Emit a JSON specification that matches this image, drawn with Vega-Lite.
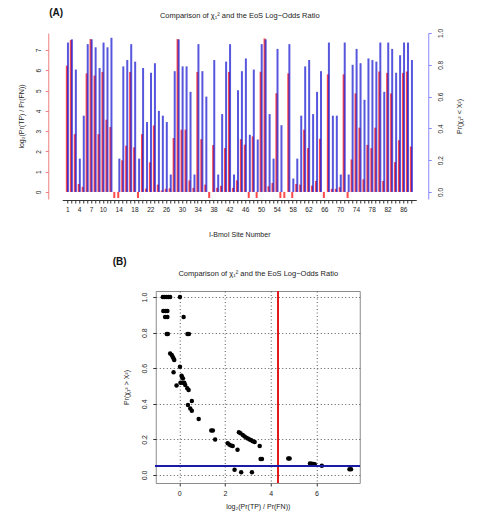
{
  "$schema": "https://vega.github.io/schema/vega-lite/v6.json",
  "background": "white",
  "padding": {"left": 17, "top": 8, "right": 2, "bottom": 2},
  "config": {
    "font": "Liberation Sans",
    "view": {"stroke": null},
    "axis": {"labelFont": "Liberation Sans", "titleFont": "Liberation Sans", "labelFontSize": 6.5, "titleFontSize": 7, "titleFontWeight": "normal", "labelColor": "#222", "titleColor": "#222", "grid": false, "tickSize": 3, "labelFlush": false, "labelOverlap": false},
    "title": {"font": "Liberation Sans"}
  },
  "spacing": 18,
  "center": true,
  "vconcat": [
    {
      "width": 354,
      "height": 166,
      "title": {"text": "(A)", "anchor": "start", "frame": "group", "dx": -13, "offset": -7, "fontSize": 10, "fontWeight": "bold", "color": "#111"},
      "data": {"values": [
        {"site": 1, "lor": 6.23, "prob": 0.94}, {"site": 2, "lor": 7.49, "prob": 0.96}, {"site": 3, "lor": 2.85, "prob": 0.77}, {"site": 4, "lor": 0.39, "prob": 0.21},
        {"site": 5, "lor": 0.25, "prob": 0.48}, {"site": 6, "lor": 5.85, "prob": 0.93}, {"site": 7, "lor": 7.54, "prob": 0.96}, {"site": 8, "lor": 5.74, "prob": 0.91},
        {"site": 9, "lor": 2.85, "prob": 0.78}, {"site": 10, "lor": 5.92, "prob": 0.94}, {"site": 11, "lor": 3.56, "prob": 0.91}, {"site": 12, "lor": 3.2, "prob": 0.97},
        {"site": 13, "lor": -0.3, "prob": 0}, {"site": 14, "lor": -0.3, "prob": 0.21}, {"site": 15, "lor": 1.56, "prob": 0.79}, {"site": 16, "lor": 2.28, "prob": 0.83},
        {"site": 17, "lor": 5.92, "prob": 0.93}, {"site": 18, "lor": 2.2, "prob": 0.82}, {"site": 19, "lor": -0.3, "prob": 0.21}, {"site": 20, "lor": 2.85, "prob": 0.78},
        {"site": 21, "lor": 0.16, "prob": 0.44}, {"site": 22, "lor": 1.46, "prob": 0.75}, {"site": 23, "lor": 3.28, "prob": 0.81}, {"site": 24, "lor": 0.36, "prob": 0.51},
        {"site": 25, "lor": 0.07, "prob": 0.48}, {"site": 26, "lor": 0.15, "prob": 0.44}, {"site": 27, "lor": 0.18, "prob": 0.11}, {"site": 28, "lor": 2.66, "prob": 0.76},
        {"site": 29, "lor": 7.54, "prob": 0.96}, {"site": 30, "lor": 3.07, "prob": 0.79}, {"site": 31, "lor": 3.07, "prob": 0.79}, {"site": 32, "lor": 0.57, "prob": 0.63},
        {"site": 33, "lor": 0.2, "prob": 0.11}, {"site": 34, "lor": 5.92, "prob": 0.93}, {"site": 35, "lor": 2.6, "prob": 0.76}, {"site": 36, "lor": 0.36, "prob": 0.6},
        {"site": 37, "lor": -0.3, "prob": 0}, {"site": 38, "lor": 2.31, "prob": 0.83}, {"site": 39, "lor": 0.2, "prob": 0.11}, {"site": 40, "lor": 0.3, "prob": 0.49},
        {"site": 41, "lor": 2.16, "prob": 0.82}, {"site": 42, "lor": 5.92, "prob": 0.93}, {"site": 43, "lor": 0.2, "prob": 0.11}, {"site": 44, "lor": 0.57, "prob": 0.64},
        {"site": 45, "lor": 2.6, "prob": 0.76}, {"site": 46, "lor": 2.33, "prob": 0.84}, {"site": 47, "lor": -0.3, "prob": 0.36}, {"site": 48, "lor": 2.74, "prob": 0.77},
        {"site": 49, "lor": -0.3, "prob": 0.33}, {"site": 50, "lor": 5.93, "prob": 0.93}, {"site": 51, "lor": 7.57, "prob": 0.96}, {"site": 52, "lor": 0.28, "prob": 0.49},
        {"site": 53, "lor": 0.44, "prob": 0.21}, {"site": 54, "lor": 4.87, "prob": 0.9}, {"site": 55, "lor": -0.3, "prob": 0.42}, {"site": 56, "lor": -0.3, "prob": 0},
        {"site": 57, "lor": 5.85, "prob": 0.93}, {"site": 58, "lor": -0.3, "prob": 0.085}, {"site": 59, "lor": 0.39, "prob": 0.21}, {"site": 60, "lor": 0.36, "prob": 0.48},
        {"site": 61, "lor": 3.07, "prob": 0.79}, {"site": 62, "lor": 2.16, "prob": 0.83}, {"site": 63, "lor": 0.31, "prob": 0.49}, {"site": 64, "lor": 0.54, "prob": 0.63},
        {"site": 65, "lor": 2.62, "prob": 0.76}, {"site": 66, "lor": -0.3, "prob": 0}, {"site": 67, "lor": 5.8, "prob": 0.94}, {"site": 68, "lor": 0.15, "prob": 0.48},
        {"site": 69, "lor": 0.15, "prob": 0.48}, {"site": 70, "lor": 0.23, "prob": 0.11}, {"site": 71, "lor": 5.8, "prob": 0.94}, {"site": 72, "lor": -0.3, "prob": 0.11},
        {"site": 73, "lor": 1.6, "prob": 0.8}, {"site": 74, "lor": 4.86, "prob": 0.9}, {"site": 75, "lor": 3.17, "prob": 0.81}, {"site": 76, "lor": 0.62, "prob": 0.58},
        {"site": 77, "lor": 2.32, "prob": 0.84}, {"site": 78, "lor": 2.16, "prob": 0.83}, {"site": 79, "lor": 3.17, "prob": 0.82}, {"site": 80, "lor": 5.94, "prob": 0.94},
        {"site": 81, "lor": 0.54, "prob": 0.63}, {"site": 82, "lor": 5.87, "prob": 0.94}, {"site": 83, "lor": 4.86, "prob": 0.9}, {"site": 84, "lor": 1.47, "prob": 0.75},
        {"site": 85, "lor": 2.55, "prob": 0.86}, {"site": 86, "lor": 5.87, "prob": 0.94}, {"site": 87, "lor": 5.94, "prob": 0.94}, {"site": 88, "lor": 2.24, "prob": 0.83}
      ]},
      "layer": [
        {
          "mark": {"type": "bar", "width": 2, "xOffset": -0.4, "color": "#ff2a2a", "opacity": 0.85},
          "encoding": {
            "x": {"field": "site", "type": "quantitative",
              "scale": {"domain": [1, 88], "nice": false, "zero": false},
              "axis": {"orient": "top", "labels": false, "ticks": false, "domain": false,
                "title": "Comparison of χ₁² and the EoS Log−Odds Ratio", "titlePadding": 14, "titleFontSize": 7.5}},
            "y": {"field": "lor", "type": "quantitative",
              "scale": {"domain": [-0.35, 7.84], "nice": false, "zero": false},
              "axis": {"orient": "left", "offset": 14, "values": [0, 1, 2, 3, 4, 5, 6, 7],
                "labelAngle": -90, "labelAlign": "center", "labelBaseline": "bottom", "labelPadding": 4,
                "domainColor": "#f08080", "tickColor": "#f08080", "title": "log₂(Pr(TP) / Pr(FN))", "titlePadding": 11}}
          }
        },
        {
          "mark": {"type": "bar", "width": 2, "xOffset": 0.7, "color": "#1010d0", "opacity": 0.7},
          "encoding": {
            "x": {"field": "site", "type": "quantitative",
              "axis": {"orient": "bottom", "offset": 1,
                "values": [1,2,3,4,5,6,7,8,9,10,11,12,13,14,15,16,17,18,19,20,21,22,23,24,25,26,27,28,29,30,31,32,33,34,35,36,37,38,39,40,41,42,43,44,45,46,47,48,49,50,51,52,53,54,55,56,57,58,59,60,61,62,63,64,65,66,67,68,69,70,71,72,73,74,75,76,77,78,79,80,81,82,83,84,85,86,87,88],
                "labelExpr": "indexof([1,4,7,10,14,18,22,26,30,34,38,42,46,50,54,58,62,66,70,74,78,82,86], datum.value) >= 0 ? datum.label : ''",
                "title": "I-BmoI Site Number", "titlePadding": 18, "labelPadding": 3, "domainColor": "#333", "tickColor": "#333"}},
            "y": {"field": "prob", "type": "quantitative",
              "scale": {"domain": [-0.044, 1], "nice": false, "zero": false},
              "axis": {"orient": "right", "offset": 12, "values": [0, 0.2, 0.4, 0.6, 0.8, 1], "format": ".1f",
                "labelAngle": -90, "labelAlign": "center", "labelBaseline": "top", "labelPadding": 6,
                "domainColor": "#8a8aff", "tickColor": "#8a8aff", "title": "Pr(χ₁² < X²)", "titleAngle": 270, "titleBaseline": "top", "titlePadding": 12}}
          }
        }
      ],
      "resolve": {"scale": {"y": "independent"}, "axis": {"x": "independent", "y": "independent"}}
    },
    {
      "width": 204,
      "height": 192,
      "view": {"stroke": "#8c8c8c", "strokeWidth": 1},
      "title": {"text": "(B)", "anchor": "start", "frame": "group", "dx": -43, "offset": 2, "fontSize": 10, "fontWeight": "bold", "color": "#111"},
      "data": {"values": [
        {"lor": -0.72, "p": 1.0}, {"lor": -0.64, "p": 1.0}, {"lor": -0.56, "p": 1.0}, {"lor": -0.48, "p": 1.0}, {"lor": -0.4, "p": 1.0}, {"lor": 0.03, "p": 1.0},
        {"lor": -0.7, "p": 0.921}, {"lor": -0.6, "p": 0.921}, {"lor": -0.52, "p": 0.921},
        {"lor": -0.62, "p": 0.888}, {"lor": -0.52, "p": 0.888}, {"lor": 0.19, "p": 0.888},
        {"lor": -0.55, "p": 0.792}, {"lor": -0.5, "p": 0.792}, {"lor": 0.36, "p": 0.792}, {"lor": 0.42, "p": 0.792},
        {"lor": -0.4, "p": 0.683}, {"lor": -0.33, "p": 0.675}, {"lor": -0.29, "p": 0.665}, {"lor": -0.25, "p": 0.655}, {"lor": -0.22, "p": 0.646},
        {"lor": -0.25, "p": 0.577}, {"lor": 0.03, "p": 0.608}, {"lor": -0.12, "p": 0.503},
        {"lor": 0.1, "p": 0.558}, {"lor": 0.12, "p": 0.55}, {"lor": 0.16, "p": 0.543}, {"lor": 0.14, "p": 0.519}, {"lor": 0.05, "p": 0.519},
        {"lor": 0.22, "p": 0.519}, {"lor": 0.26, "p": 0.506}, {"lor": 0.35, "p": 0.487}, {"lor": 0.41, "p": 0.478},
        {"lor": 0.55, "p": 0.416}, {"lor": 0.38, "p": 0.393}, {"lor": 0.48, "p": 0.374}, {"lor": 0.55, "p": 0.361},
        {"lor": 0.85, "p": 0.315}, {"lor": 1.4, "p": 0.25}, {"lor": 1.47, "p": 0.25}, {"lor": 1.57, "p": 0.2},
        {"lor": 2.12, "p": 0.178}, {"lor": 2.2, "p": 0.17}, {"lor": 2.28, "p": 0.165}, {"lor": 2.34, "p": 0.163},
        {"lor": 2.55, "p": 0.142}, {"lor": 2.61, "p": 0.24}, {"lor": 2.68, "p": 0.235}, {"lor": 2.78, "p": 0.225}, {"lor": 2.86, "p": 0.217},
        {"lor": 2.93, "p": 0.21}, {"lor": 3.0, "p": 0.205}, {"lor": 3.08, "p": 0.2}, {"lor": 3.15, "p": 0.195}, {"lor": 3.22, "p": 0.19}, {"lor": 3.3, "p": 0.185},
        {"lor": 3.52, "p": 0.163}, {"lor": 3.56, "p": 0.09}, {"lor": 3.62, "p": 0.09}, {"lor": 2.42, "p": 0.03}, {"lor": 2.71, "p": 0.015}, {"lor": 3.18, "p": 0.015},
        {"lor": 4.77, "p": 0.093}, {"lor": 4.83, "p": 0.093}, {"lor": 5.72, "p": 0.065}, {"lor": 5.8, "p": 0.063}, {"lor": 5.88, "p": 0.062}, {"lor": 5.93, "p": 0.06},
        {"lor": 6.24, "p": 0.052}, {"lor": 7.45, "p": 0.032}, {"lor": 7.52, "p": 0.032}
      ]},
      "layer": [
        {
          "mark": {"type": "circle", "size": 20, "color": "#000", "opacity": 1},
          "encoding": {
            "x": {"field": "lor", "type": "quantitative",
              "scale": {"domain": [-1.03, 7.9], "nice": false, "zero": false},
              "axis": {"orient": "bottom", "values": [0, 2, 4, 6], "grid": true, "gridDash": [1, 2.5], "gridColor": "#555", "gridWidth": 1,
                "domain": false, "tickColor": "#333", "labelPadding": 3, "labelFontSize": 7, "title": "log₂(Pr(TP) / Pr(FN))", "titlePadding": 6, "titleFontSize": 7}},
            "y": {"field": "p", "type": "quantitative",
              "scale": {"domain": [-0.045, 1.034], "nice": false, "zero": false},
              "axis": {"orient": "left", "values": [0, 0.2, 0.4, 0.6, 0.8, 1], "format": ".1f", "grid": true, "gridDash": [1, 2.5], "gridColor": "#555", "gridWidth": 1,
                "domain": false, "tickColor": "#333", "labelAngle": -90, "labelAlign": "center", "labelBaseline": "bottom", "labelPadding": 5, "labelFontSize": 7,
                "title": "Pr(χ₁² > X²)", "titlePadding": 11, "titleFontSize": 7}}
          }
        },
        {
          "mark": {"type": "rule", "color": "#e31a1c", "strokeWidth": 1},
          "encoding": {
            "x": {"datum": 4.32, "type": "quantitative",
              "axis": {"orient": "top", "labels": false, "ticks": false, "domain": false, "grid": false,
                "title": "Comparison of χ₁² and the EoS Log−Odds Ratio", "titlePadding": 14, "titleFontSize": 7.5}}
          }
        },
        {
          "mark": {"type": "rule", "color": "#1c1ca8", "strokeWidth": 1},
          "encoding": {
            "y": {"datum": 0.05, "type": "quantitative",
              "axis": {"orient": "right", "labels": false, "ticks": false, "domain": false, "grid": false,
                "title": ".", "titleColor": "transparent", "titlePadding": 2}}
          }
        }
      ],
      "resolve": {"axis": {"x": "independent", "y": "independent"}}
    }
  ]
}
